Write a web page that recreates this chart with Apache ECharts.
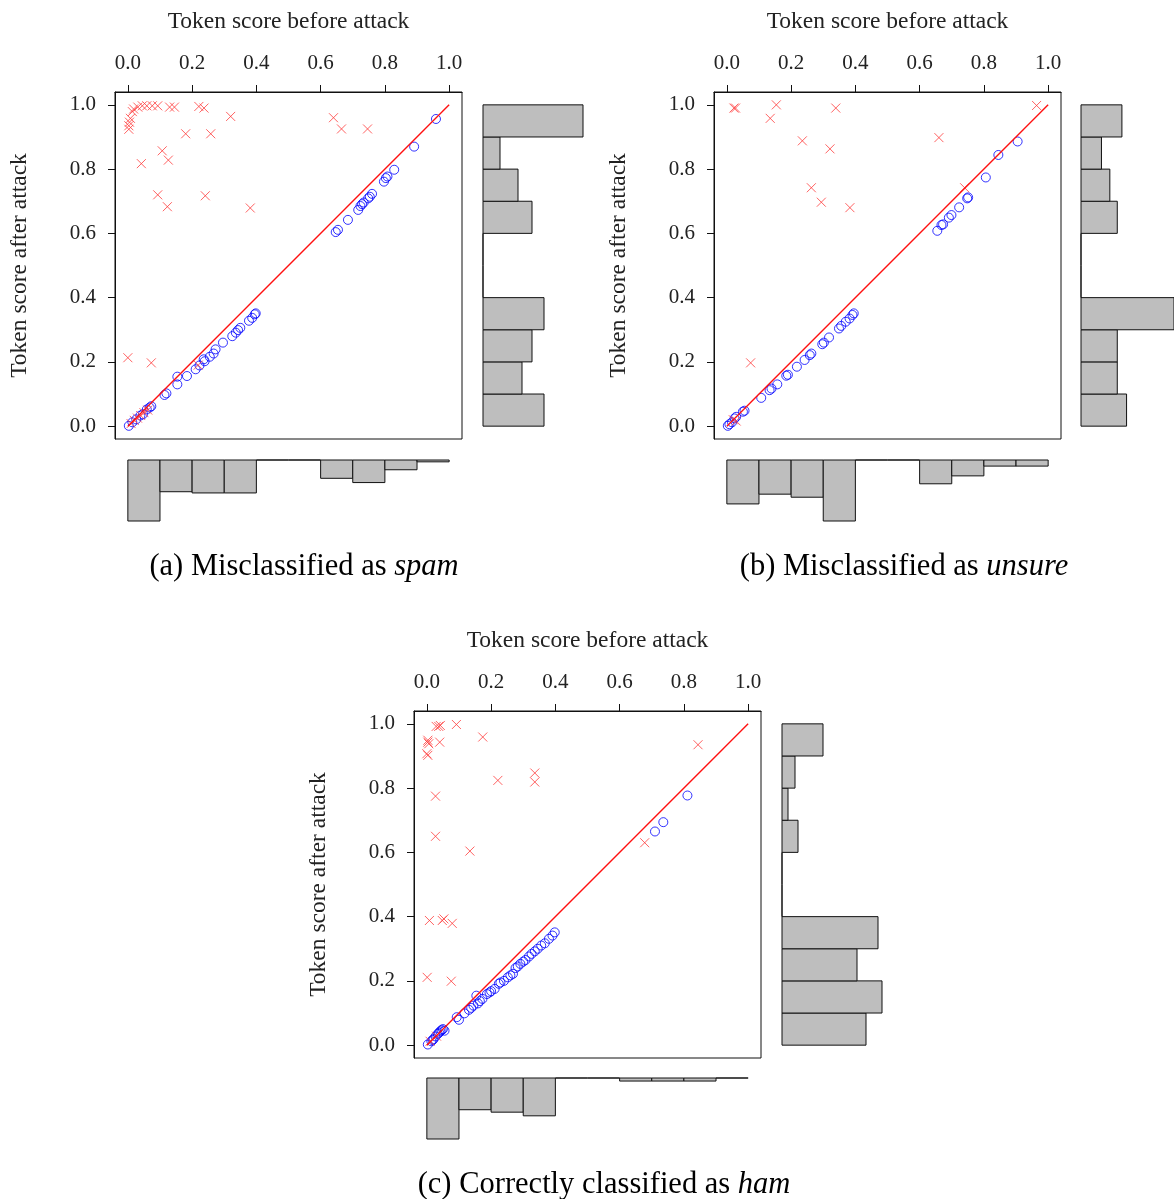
<!DOCTYPE html>
<html><head><meta charset="utf-8">
<script src="https://cdn.jsdelivr.net/npm/echarts@6/dist/echarts.min.js"></script>
<style>html,body{margin:0;padding:0;background:#fff}#c{width:1174px;height:1199px}</style>
</head><body><div id="c"></div>
<script>
// ---------- data ----------
const tickValues = [0, 0.2, 0.4, 0.6, 0.8, 1.0];
const binStarts = [0, 0.1, 0.2, 0.3, 0.4, 0.5, 0.6, 0.7, 0.8, 0.9];
const binWidth = 0.1;
const xTitle = 'Token score before attack';
const yTitle = 'Token score after attack';

// (a) Misclassified as spam
const aCircle = [[0.003,0.001],[0.014,0.012],[0.026,0.021],[0.039,0.033],[0.047,0.037],[0.059,0.052],[0.068,0.058],[0.073,0.062],
 [0.114,0.097],[0.12,0.102],[0.154,0.13],[0.154,0.154],[0.184,0.156],[0.211,0.177],[0.223,0.189],[0.239,0.202],[0.236,0.208],
 [0.255,0.216],[0.267,0.226],[0.273,0.239],[0.296,0.26],[0.325,0.28],[0.336,0.291],[0.343,0.299],[0.35,0.306],[0.377,0.328],
 [0.387,0.337],[0.395,0.348],[0.398,0.351],
 [0.647,0.604],[0.654,0.611],[0.685,0.642],[0.717,0.673],[0.724,0.685],[0.729,0.691],[0.734,0.696],[0.748,0.709],[0.753,0.714],
 [0.76,0.723],[0.797,0.761],[0.803,0.772],[0.808,0.777],[0.829,0.798],[0.891,0.87],[0.959,0.956]];
const aCross = [[0.003,0.924],[0.003,0.935],[0.005,0.946],[0.008,0.958],[0.014,0.979],[0.018,0.987],[0.031,0.993],[0.045,0.997],
 [0.059,0.997],[0.076,0.997],[0.093,0.997],[0.13,0.993],[0.145,0.993],[0.221,0.995],[0.237,0.99],[0.32,0.964],[0.18,0.91],
 [0.258,0.91],[0.107,0.857],[0.126,0.828],[0.042,0.817],[0.093,0.72],[0.241,0.717],[0.123,0.683],[0.381,0.679],[0.64,0.96],
 [0.665,0.925],[0.746,0.925],[0.0,0.213],[0.073,0.197],
 [0.01,0.008],[0.02,0.018],[0.03,0.025],[0.04,0.033],[0.05,0.042],[0.062,0.05],[0.219,0.19]];
const aHistX = [100, 52, 54, 54, 0, 0, 30, 37, 16, 3];
const aHistY = [61, 39, 49, 61, 0, 0, 49, 35, 17, 100];

// (b) Misclassified as unsure
const bCircle = [[0.003,0.001],[0.008,0.006],[0.016,0.012],[0.024,0.024],[0.029,0.029],[0.05,0.045],[0.055,0.048],[0.107,0.088],
 [0.133,0.112],[0.139,0.117],[0.157,0.13],[0.185,0.157],[0.19,0.16],[0.218,0.185],[0.242,0.206],[0.258,0.221],[0.263,0.226],
 [0.297,0.255],[0.302,0.26],[0.318,0.276],[0.349,0.304],[0.356,0.312],[0.37,0.325],[0.382,0.335],[0.391,0.346],[0.395,0.351],
 [0.655,0.608],[0.668,0.626],[0.673,0.628],[0.691,0.649],[0.699,0.657],[0.723,0.681],[0.748,0.709],[0.751,0.712],[0.806,0.774],
 [0.845,0.844],[0.905,0.886]];
const bCross = [[0.022,0.99],[0.027,0.99],[0.154,1.0],[0.135,0.958],[0.339,0.99],[0.235,0.888],[0.321,0.863],[0.263,0.742],
 [0.294,0.697],[0.383,0.68],[0.66,0.898],[0.964,0.998],[0.74,0.742],[0.074,0.197],[0.029,0.016],[0.02,0.02]];
const bHistX = [72, 56, 61, 100, 0, 0, 39, 26, 10, 10];
const bHistY = [49, 39, 39, 100, 0, 0, 39, 31, 22, 44];

// (c) Correctly classified as ham
const cCircle = [[0.003,0.002],[0.014,0.012],[0.018,0.016],[0.021,0.019],[0.027,0.027],[0.034,0.035],[0.038,0.039],[0.042,0.043],
 [0.046,0.047],[0.05,0.05],[0.055,0.045],[0.093,0.087],[0.1,0.079],[0.117,0.099],[0.131,0.11],[0.138,0.116],[0.145,0.123],
 [0.154,0.154],[0.159,0.13],[0.165,0.137],[0.173,0.144],[0.187,0.159],[0.195,0.164],[0.2,0.168],[0.211,0.175],[0.224,0.191],
 [0.229,0.195],[0.24,0.2],[0.252,0.211],[0.26,0.217],[0.268,0.222],[0.276,0.24],[0.283,0.245],[0.291,0.253],[0.3,0.26],
 [0.307,0.265],[0.318,0.276],[0.326,0.284],[0.336,0.292],[0.345,0.3],[0.356,0.31],[0.367,0.317],[0.38,0.331],[0.391,0.341],
 [0.398,0.351],[0.71,0.665],[0.736,0.694],[0.811,0.777]];
const cCross = [[0.029,0.992],[0.042,0.995],[0.037,0.992],[0.092,0.998],[0.174,0.959],[0.003,0.949],[0.003,0.943],[0.006,0.938],
 [0.0,0.907],[0.003,0.902],[0.04,0.943],[0.221,0.824],[0.336,0.847],[0.336,0.819],[0.027,0.775],[0.027,0.65],[0.134,0.604],
 [0.008,0.388],[0.048,0.388],[0.053,0.393],[0.079,0.379],[0.001,0.211],[0.076,0.199],[0.844,0.935],[0.678,0.63],
 [0.01,0.012],[0.03,0.028]];
const cHistX = [100, 52, 56, 62, 0, 0, 5, 5, 5, 0];
const cHistY = [84, 100, 75, 96, 0, 0, 16, 6, 13, 41];

// reference line y = x, from (0,0) to (1,1)
const diagonal = [[0, 0], [1, 1]];

// ---------- layout ----------
const FONT = 'Liberation Serif';
const panels = [
  {circle: aCircle, cross: aCross, histX: aHistX, histY: aHistY, left: 115, top: 92, rightLeft: 483, bottomTop: 460,
   cap: ['(a) Misclassified as ', 'spam'], capX: 304, capY: 567},
  {circle: bCircle, cross: bCross, histX: bHistX, histY: bHistY, left: 714, top: 92, rightLeft: 1081, bottomTop: 460,
   cap: ['(b) Misclassified as ', 'unsure'], capX: 904, capY: 567},
  {circle: cCircle, cross: cCross, histX: cHistX, histY: cHistY, left: 414, top: 711, rightLeft: 782, bottomTop: 1078,
   cap: ['(c) Correctly classified as ', 'ham'], capX: 604, capY: 1185}
];
const SIZE = 347, AMIN = -0.04, AMAX = 1.04, HR_W = 100, HB_H = 61;

const grids = [], xAxes = [], yAxes = [], series = [], graphics = [];
const fmt = v => v.toFixed(1);
const hidden = {show: false};

panels.forEach((p, i) => {
  const g0 = grids.length;
  grids.push({left: p.left, top: p.top, width: SIZE, height: SIZE, show: true, borderColor: '#111', borderWidth: 1, backgroundColor: '#fff'});
  grids.push({left: p.rightLeft, top: p.top, width: HR_W, height: SIZE});
  grids.push({left: p.left, top: p.bottomTop, width: SIZE, height: HB_H});
  const axisText = {fontFamily: FONT, fontSize: 21, color: '#222'};
  xAxes.push({gridIndex: g0, type: 'value', position: 'top', min: AMIN, max: AMAX,
    axisLine: {show: true, onZero: false, lineStyle: {color: '#111', width: 1}},
    axisTick: {show: true, inside: false, length: 7, customValues: tickValues, lineStyle: {color: '#111', width: 1}},
    axisLabel: {show: true, customValues: tickValues, formatter: fmt, margin: 18, ...axisText},
    splitLine: hidden, name: xTitle, nameLocation: 'middle', nameGap: 58,
    nameTextStyle: {fontFamily: FONT, fontSize: 23.5, color: '#222'}});
  yAxes.push({gridIndex: g0, type: 'value', position: 'left', min: AMIN, max: AMAX,
    axisLine: {show: true, onZero: false, lineStyle: {color: '#111', width: 1}},
    axisTick: {show: true, inside: false, length: 7, customValues: tickValues, lineStyle: {color: '#111', width: 1}},
    axisLabel: {show: true, customValues: tickValues, formatter: fmt, margin: 19, ...axisText},
    splitLine: hidden, name: yTitle, nameLocation: 'middle', nameGap: 83,
    nameTextStyle: {fontFamily: FONT, fontSize: 23.5, color: '#222'}});
  // right histogram axes
  xAxes.push({gridIndex: g0 + 1, type: 'value', min: 0, max: 100, show: false});
  yAxes.push({gridIndex: g0 + 1, type: 'value', min: AMIN, max: AMAX, show: false});
  // bottom histogram axes
  xAxes.push({gridIndex: g0 + 2, type: 'value', min: AMIN, max: AMAX, show: false});
  yAxes.push({gridIndex: g0 + 2, type: 'value', min: 0, max: 100, inverse: true, show: false});

  series.push({type: 'scatter', xAxisIndex: g0, yAxisIndex: g0, data: p.circle, symbol: 'circle', symbolSize: 9,
    itemStyle: {color: 'rgba(0,0,0,0)', borderColor: '#0000ff', borderWidth: 1}, silent: true, animation: false, z: 2});
  series.push({type: 'scatter', xAxisIndex: g0, yAxisIndex: g0, data: p.cross, symbol: 'path://M0,0L10,10M10,0L0,10', symbolSize: 9,
    itemStyle: {color: 'rgba(0,0,0,0)', borderColor: '#ff3b3b', borderWidth: 1}, silent: true, animation: false, z: 3});
  series.push({type: 'line', xAxisIndex: g0, yAxisIndex: g0, data: diagonal.map(d => d.slice()), symbol: 'none',
    lineStyle: {color: '#ff1010', width: 1.4}, itemStyle: {color: '#ff1010'}, silent: true, animation: false, z: 4});

  const hx = binStarts.map((b, k) => [b, b + binWidth, p.histX[k]]);
  const hy = binStarts.map((b, k) => [b, b + binWidth, p.histY[k]]);
  series.push({type: 'custom', xAxisIndex: g0 + 1, yAxisIndex: g0 + 1, data: hy, encode: {x: 2, y: [0, 1]}, silent: true, animation: false,
    renderItem: (params, api) => {
      const a = api.coord([0, api.value(1)]), b = api.coord([api.value(2), api.value(0)]);
      return {type: 'rect', shape: {x: a[0], y: a[1], width: b[0] - a[0], height: b[1] - a[1]},
        style: {fill: '#bebebe', stroke: '#111', lineWidth: 1}};
    }});
  series.push({type: 'custom', xAxisIndex: g0 + 2, yAxisIndex: g0 + 2, data: hx, encode: {x: [0, 1], y: 2}, silent: true, animation: false,
    renderItem: (params, api) => {
      const a = api.coord([api.value(0), 0]), b = api.coord([api.value(1), api.value(2)]);
      return {type: 'rect', shape: {x: a[0], y: a[1], width: b[0] - a[0], height: b[1] - a[1]},
        style: {fill: '#bebebe', stroke: '#111', lineWidth: 1}};
    }});

  graphics.push({type: 'text', x: p.capX, y: p.capY,
    style: {text: '{n|' + p.cap[0] + '}{i|' + p.cap[1] + '}', align: 'center', verticalAlign: 'middle',
      rich: {n: {fontFamily: FONT, fontSize: 30.5, fill: '#000'}, i: {fontFamily: FONT, fontSize: 30.5, fontStyle: 'italic', fill: '#000'}}}});
});

const chart = echarts.init(document.getElementById('c'), null, {renderer: 'canvas'});
chart.setOption({animation: false, backgroundColor: '#fff', grid: grids, xAxis: xAxes, yAxis: yAxes, series, graphic: graphics});
</script></body></html>
